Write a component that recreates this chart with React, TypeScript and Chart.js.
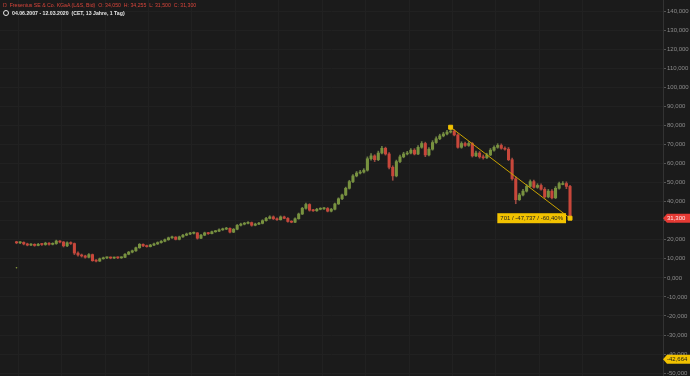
import React, { useEffect, useRef } from "react";
import { Chart, registerables } from "chart.js";
Chart.register(...registerables);

// Monthly candles, Jun 2007 (index 0) .. Mar 2020 (index 153)
const firstYear = 2007;
const firstMonth = 6;
const opens = [
  18.6, 18.4, 18.6, 17.8, 17.2, 17.6, 17.0,
  17.6, 17.5, 18.2, 17.6, 18.0, 19.3, 18.8, 16.8, 18.4, 18.0, 13.0, 12.0,
  11.5, 10.8, 12.2, 9.0, 8.8, 10.0, 10.5, 10.6, 10.4, 10.6, 10.5, 10.8,
  12.4, 13.5, 14.2, 15.8, 17.6, 16.8, 16.4, 17.2, 17.8, 18.5, 19.2, 20.0,
  21.0, 21.4, 20.2, 21.5, 22.4, 23.0, 23.4, 23.6, 20.8, 22.4, 23.6, 23.2,
  24.2, 24.5, 25.2, 25.6, 26.0, 24.0, 25.5, 27.6, 28.2, 28.6, 29.0, 27.6,
  28.2, 28.6, 30.0, 31.2, 32.0, 31.0, 30.5, 32.0, 31.2, 29.6, 29.2, 31.0,
  33.5, 36.5, 38.5, 35.5, 35.2, 36.0, 36.2, 36.4, 35.0, 36.0, 38.8, 41.5,
  43.5, 47.0, 50.5, 53.5, 55.0, 55.5, 56.5, 62.5, 64.0, 62.0, 65.5, 68.0,
  65.0, 58.0, 53.5, 61.0, 63.5, 65.0, 65.5, 67.0, 65.0, 68.5, 70.5, 64.5,
  67.5, 71.0, 73.0, 74.5, 75.5, 76.5, 77.0, 75.0, 68.5, 70.5, 69.5, 70.5,
  64.0, 65.5, 63.5, 63.0, 64.5, 67.0, 68.5, 69.5, 68.0, 67.5, 62.0, 52.0,
  41.0, 43.5, 45.5, 48.0, 50.5, 47.5, 48.5, 46.5, 42.5, 45.5, 42.0, 47.0,
  49.5, 49.5, 48.0,
];
const highs = [
  19.2, 19.0, 18.9, 18.2, 18.0, 17.9, 18.1,
  18.0, 18.7, 18.5, 18.4, 19.8, 19.6, 19.1, 18.9, 18.9, 18.3, 13.6, 12.5,
  11.9, 12.8, 12.5, 9.6, 10.4, 10.9, 11.0, 11.0, 10.9, 11.0, 11.1, 12.8,
  13.9, 14.6, 16.2, 18.0, 17.9, 17.2, 17.6, 18.2, 18.9, 19.6, 20.4, 21.4,
  21.9, 21.6, 21.9, 22.8, 23.5, 23.9, 24.1, 23.8, 22.9, 24.0, 23.9, 24.6,
  24.9, 25.7, 26.1, 26.5, 26.3, 25.9, 28.0, 28.7, 29.1, 29.5, 29.3, 28.7,
  29.1, 30.5, 31.7, 32.6, 32.5, 31.5, 32.5, 32.4, 31.6, 30.0, 31.5, 34.0,
  37.0, 39.2, 38.9, 36.0, 36.5, 36.8, 37.0, 36.9, 36.5, 39.3, 42.0, 44.0,
  47.6, 51.2, 54.2, 55.8, 56.4, 57.3, 63.5, 65.2, 64.6, 66.5, 69.0, 68.6,
  65.8, 58.8, 61.8, 64.4, 65.9, 66.4, 67.9, 67.8, 69.4, 71.5, 71.2, 68.4,
  72.0, 74.0, 75.4, 76.4, 77.4, 79.04, 77.8, 75.6, 71.4, 71.3, 71.5, 71.0,
  66.5, 66.3, 64.5, 65.4, 67.9, 69.3, 70.4, 70.3, 68.8, 68.4, 62.8, 53.0,
  44.4, 46.4, 49.0, 51.4, 51.3, 49.4, 49.3, 47.4, 46.4, 46.3, 47.9, 50.3,
  50.5, 50.4, 48.6,
];
const lows = [
  17.9, 17.9, 17.3, 16.8, 16.9, 16.6, 16.8,
  17.0, 17.1, 17.1, 17.3, 17.6, 18.3, 16.2, 16.4, 17.5, 12.2, 11.4, 10.9,
  10.3, 10.5, 8.7, 8.4, 8.6, 9.8, 10.1, 10.0, 10.1, 10.1, 10.2, 10.6,
  12.1, 13.1, 13.9, 15.5, 16.4, 16.1, 16.2, 16.9, 17.5, 18.2, 18.9, 19.7,
  20.7, 19.9, 19.9, 21.2, 22.1, 22.6, 23.0, 20.3, 20.5, 22.1, 22.8, 23.0,
  23.9, 24.2, 24.9, 25.3, 23.6, 23.7, 25.2, 27.2, 27.8, 28.3, 27.1, 27.3,
  27.9, 28.3, 29.7, 30.9, 30.6, 30.1, 30.3, 31.0, 29.2, 28.9, 28.9, 30.8,
  33.2, 36.0, 35.0, 34.8, 34.9, 35.7, 35.9, 34.6, 34.6, 35.6, 38.5, 41.0,
  43.1, 46.6, 50.0, 53.0, 54.5, 55.0, 56.0, 61.8, 61.0, 61.5, 65.0, 64.4,
  57.2, 51.2, 53.0, 60.5, 63.0, 64.5, 65.0, 64.5, 64.6, 68.0, 63.6, 64.0,
  67.0, 70.5, 72.5, 74.0, 75.0, 76.0, 74.5, 68.0, 68.0, 69.0, 69.0, 63.4,
  63.6, 62.8, 62.3, 62.6, 64.1, 66.5, 68.0, 67.5, 67.0, 61.5, 51.3, 38.9,
  40.6, 43.0, 45.0, 47.6, 47.0, 47.0, 46.0, 41.8, 42.0, 41.4, 41.6, 46.6,
  48.8, 46.8, 31.3,
];
const closes = [
  18.4, 18.6, 17.8, 17.2, 17.6, 17.0, 17.6,
  17.5, 18.2, 17.6, 18.0, 19.3, 18.8, 16.8, 18.4, 18.0, 13.0, 12.0, 11.5,
  10.8, 12.2, 9.0, 8.8, 10.0, 10.5, 10.6, 10.4, 10.6, 10.5, 10.8, 12.4,
  13.5, 14.2, 15.8, 17.6, 16.8, 16.4, 17.2, 17.8, 18.5, 19.2, 20.0, 21.0,
  21.4, 20.2, 21.5, 22.4, 23.0, 23.4, 23.6, 20.8, 22.4, 23.6, 23.2, 24.2,
  24.5, 25.2, 25.6, 26.0, 24.0, 25.5, 27.6, 28.2, 28.6, 29.0, 27.6, 28.2,
  28.6, 30.0, 31.2, 32.0, 31.0, 30.5, 32.0, 31.2, 29.6, 29.2, 31.0, 33.5,
  36.5, 38.5, 35.5, 35.2, 36.0, 36.2, 36.4, 35.0, 36.0, 38.8, 41.5, 43.5,
  47.0, 50.5, 53.5, 55.0, 55.5, 56.5, 62.5, 64.0, 62.0, 65.5, 68.0, 65.0,
  58.0, 53.5, 61.0, 63.5, 65.0, 65.5, 67.0, 65.0, 68.5, 70.5, 64.5, 67.5,
  71.0, 73.0, 74.5, 75.5, 76.5, 77.0, 75.0, 68.5, 70.5, 69.5, 70.5, 64.0,
  65.5, 63.5, 63.0, 64.5, 67.0, 68.5, 69.5, 68.0, 67.5, 62.0, 52.0, 41.0,
  43.5, 45.5, 48.0, 50.5, 47.5, 48.5, 46.5, 42.5, 45.5, 42.0, 47.0, 49.5,
  49.5, 48.0, 31.3,
];
// stray bad tick near the start
const strayTick = { index: 0, value: 5.3 };
// drawing tool: trend line from the June 2017 high to the last price
const trendStart = { index: 120, value: 79.037 };
const trendEnd = { index: 153, value: 31.3 };
const trendLabel = "701 / -47,737 / -60,40%";
const lastPrice = 31.3;
const projectionPrice = -42.664;
const yearLines = [2008, 2009, 2010, 2011, 2012, 2013, 2014, 2015, 2016, 2017, 2018, 2019, 2020];
const yTickValues = [-50, -40, -30, -20, -10, 0, 10, 20, 30, 40, 50, 60, 70, 80, 90, 100, 110, 120, 130, 140];

const UP = "#78923f";
const DOWN = "#c8473b";
const UP_WICK = "#6a7d45";
const DOWN_WICK = "#9a4a42";
const BG = "#1b1b1b";
const GRID = "#212121";
const YELLOW = "#f2c200";
const FONT = "'Liberation Sans', Arial, sans-serif";

const fmt = (v: number) => v.toFixed(3).replace(".", ",");
const yearIndex = (y: number) => (y - firstYear) * 12 - (firstMonth - 1) - 0.5;

export default function App() {
  const ref = useRef<HTMLCanvasElement | null>(null);
  useEffect(() => {
    document.body.style.margin = "0";
    document.body.style.background = BG;
    const canvas = ref.current!;
    const wick = closes.map((_, i) => ({ x: i, y: [lows[i], highs[i]] }));
    const body = closes.map((c, i) => ({ x: i, y: [Math.min(opens[i], c), Math.max(opens[i], c)] }));
    const colors = closes.map((c, i) => (c >= opens[i] ? UP : DOWN));
    const wickColors = closes.map((c, i) => (c >= opens[i] ? UP_WICK : DOWN_WICK));

    const overlay = {
      id: "overlay",
      afterDraw(chart: any) {
        const ctx = chart.ctx;
        const ys = chart.scales.y;
        const xs = chart.scales.x;
        const right = chart.chartArea.right;
        const W = chart.width;
        const tag = (val: number, bg: string, fg: string) => {
          const y = ys.getPixelForValue(val);
          ctx.save();
          ctx.fillStyle = bg;
          ctx.beginPath();
          ctx.moveTo(right, y);
          ctx.lineTo(right + 4, y - 4.5);
          ctx.lineTo(W, y - 4.5);
          ctx.lineTo(W, y + 4.5);
          ctx.lineTo(right + 4, y + 4.5);
          ctx.closePath();
          ctx.fill();
          ctx.fillStyle = fg;
          ctx.font = "6px " + FONT;
          ctx.textBaseline = "middle";
          ctx.textAlign = "left";
          ctx.fillText(fmt(val), right + 4, y + 0.5);
          ctx.restore();
        };
        tag(lastPrice, "#e53a34", "#ffe9e9");
        tag(projectionPrice, YELLOW, "#1b1b1b");
        // trend label
        const ex = xs.getPixelForValue(trendEnd.index);
        const ey = ys.getPixelForValue(trendEnd.value);
        ctx.save();
        ctx.font = "6px " + FONT;
        const tw = ctx.measureText(trendLabel).width;
        const bx1 = ex - 4;
        const bx0 = bx1 - tw - 6;
        ctx.fillStyle = YELLOW;
        ctx.fillRect(bx0, ey - 5, bx1 - bx0, 10);
        ctx.fillStyle = "#222";
        ctx.textBaseline = "middle";
        ctx.fillText(trendLabel, bx0 + 3, ey + 0.5);
        ctx.restore();
      },
    };

    const chart = new Chart(canvas, {
      type: "bar",
      data: {
        datasets: [
          {
            type: "bar",
            data: wick as any,
            backgroundColor: wickColors,
            barThickness: 1,
            grouped: false,
            order: 3,
          } as any,
          {
            type: "bar",
            data: body as any,
            backgroundColor: colors,
            barThickness: 2.4,
            minBarLength: 1,
            grouped: false,
            order: 2,
          } as any,
          {
            type: "line",
            data: [
              { x: trendStart.index, y: trendStart.value },
              { x: trendEnd.index, y: trendEnd.value },
            ],
            borderColor: "#c9a200",
            borderWidth: 1,
            pointStyle: "rect",
            pointRadius: 2.8,
            pointHoverRadius: 2.8,
            pointBackgroundColor: YELLOW,
            pointBorderColor: YELLOW,
            order: 1,
          } as any,
          {
            type: "scatter",
            data: [{ x: strayTick.index, y: strayTick.value }],
            pointRadius: 0.8,
            pointBackgroundColor: "#8ca040",
            pointBorderWidth: 0,
            order: 0,
          } as any,
        ],
      },
      options: {
        animation: false,
        responsive: false,
        devicePixelRatio: 1,
        layout: { padding: 0, autoPadding: false },
        plugins: { legend: { display: false }, tooltip: { enabled: false } },
        scales: {
          x: {
            type: "linear",
            min: -4.56,
            max: 178.7,
            offset: false,
            afterBuildTicks: (s: any) => {
              s.ticks = yearLines.map((y) => ({ value: yearIndex(y) }));
            },
            afterFit: (s: any) => {
              s.height = 0;
              s.paddingLeft = 0;
              s.paddingRight = 0;
            },
            ticks: { display: false },
            grid: { color: GRID, drawTicks: false, lineWidth: 1 },
            border: { display: false },
          },
          y: {
            position: "right",
            min: -51.5,
            max: 145.8,
            afterBuildTicks: (s: any) => {
              s.ticks = yTickValues.map((v) => ({ value: v }));
            },
            afterFit: (s: any) => {
              s.width = 27;
              s.paddingTop = 0;
              s.paddingBottom = 0;
            },
            ticks: {
              color: "#8c8c8c",
              font: { size: 6, family: FONT },
              padding: 1,
              callback: (v: any) => fmt(Number(v)),
            },
            grid: { color: GRID, tickColor: "#555", tickLength: 3, lineWidth: 1 },
            border: { display: true, color: "#333" },
          },
        },
      } as any,
      plugins: [overlay],
    });
    return () => chart.destroy();
  }, []);

  return (
    <div style={{ position: "relative", width: 690, height: 376, background: BG, overflow: "hidden" }}>
      <canvas ref={ref} width={690} height={376} style={{ display: "block" }} />
      <div
        style={{
          position: "absolute",
          left: 3,
          top: 2,
          font: "5.2px " + FONT,
          lineHeight: "7.5px",
          whiteSpace: "pre",
        }}
      >
        <div style={{ color: "#d9453b" }}>
          {"Ŋ  Fresenius SE & Co. KGaA (L&S, Bid)  O: 34,050  H: 34,255  L: 31,500  C: 31,300"}
        </div>
        <div style={{ color: "#e6e6e6", display: "flex", alignItems: "center", fontWeight: "bold" }}>
          <span
            style={{
              display: "inline-block",
              width: 4,
              height: 4,
              border: "1px solid #e6e6e6",
              borderRadius: "50%",
              marginRight: 3,
            }}
          />
          {"04.06.2007 - 12.03.2020  (CET, 13 Jahre, 1 Tag)"}
        </div>
      </div>
    </div>
  );
}
